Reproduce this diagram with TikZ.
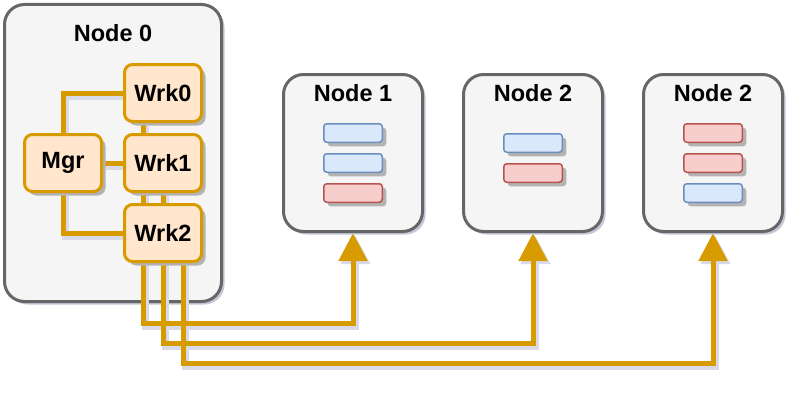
\documentclass[tikz,border=0pt]{standalone}
\usepackage{fontspec}
\setmainfont{Liberation Sans}
\usetikzlibrary{arrows.meta,positioning,shadows}

\definecolor{boxfill}{HTML}{F5F5F5}
\definecolor{boxline}{HTML}{666666}
\definecolor{wrkfill}{HTML}{FFE6CC}
\definecolor{wrkline}{HTML}{D79B00}
\definecolor{fillblu}{HTML}{DAE8FC}
\definecolor{lineblu}{HTML}{6C8EBF}
\definecolor{fillred}{HTML}{F8CECC}
\definecolor{linered}{HTML}{B85450}
\definecolor{shadeblue}{HTML}{C4C7D8}
\definecolor{shadelink}{HTML}{D8DBE7}
\definecolor{shadegray}{HTML}{B3B3B3}

\pgfdeclarelayer{back}
\pgfdeclarelayer{mid}
\pgfsetlayers{back,mid,main}

\begin{document}
\begin{tikzpicture}[x=1pt,y=-1pt,
	every node/.style={font=\fontsize{23.5}{27}\selectfont\bfseries},
	host/.style={draw=boxline,fill=boxfill,line width=3pt,rounded corners=20pt,inner sep=0pt,
		drop shadow={shadow xshift=3pt,shadow yshift=-3pt,fill=shadeblue,opacity=1}},
	wrk/.style={draw=wrkline,fill=wrkfill,line width=3pt,rounded corners=8pt,inner sep=0pt,
		minimum width=77pt,minimum height=57pt,
		drop shadow={shadow xshift=4pt,shadow yshift=-4pt,fill=shadegray,opacity=1}},
	bar/.style={draw=line#1,fill=fill#1,line width=1.5pt,rounded corners=3pt,inner sep=0pt,
		minimum width=58.5pt,minimum height=18.5pt,
		drop shadow={shadow xshift=4pt,shadow yshift=-4pt,fill=shadegray,opacity=1}},
	link/.style={draw=wrkline,line width=5pt},
	linkshade/.style={draw=shadelink,line width=7pt,transform canvas={shift={(2.5pt,-3pt)}}},
	tip/.style={-{Triangle[width=28pt,length=28pt]}}
	]
	\useasboundingbox (0,0) rectangle (810,404);

	% hosts
	\begin{pgfonlayer}{back}
		\node[host,minimum width=217pt,minimum height=297pt] (n0) at (113,153) {};
	\end{pgfonlayer}
	\node (t0) at ([yshift=-30pt]n0.north) {Node 0};
	\node[host,minimum width=139pt,minimum height=157pt] (n1) at (353,153) {};
	\node[host,minimum width=139pt,minimum height=157pt] (n2) at (533,153) {};
	\node[host,minimum width=139pt,minimum height=157pt] (n3) at (713,153) {};
	\node (t1) at ([yshift=-20pt]n1.north) {Node 1};
	\node (t2) at ([yshift=-20pt]n2.north) {Node 2};
	\node (t3) at ([yshift=-20pt]n3.north) {Node 2};

	% manager and workers
	\node[wrk] (w0) at (163,93) {Wrk0};
	\node[wrk,below=10pt of w0] (w1) {Wrk1};
	\node[wrk,below=10pt of w1] (w2) {Wrk2};
	\node[wrk,left=20pt of w1] (mgr) {Mgr};

	% blocks
	\foreach \y/\c in {133/blu,163/blu,193/red}
		\node[bar=\c] (b1-\y) at (353,\y) {};
	\foreach \y/\c in {143/blu,173/red}
		\node[bar=\c] (b2-\y) at (533,\y) {};
	\foreach \y/\c in {133/red,163/red,193/blu}
		\node[bar=\c] (b3-\y) at (713,\y) {};

	% links
	\begin{pgfonlayer}{mid}
		\foreach \sty in {linkshade,link}{
			\draw[\sty] (mgr.north) |- (w0.west);
			\draw[\sty] (mgr) -- (w1);
			\draw[\sty] (mgr.south) |- (w2.west);
			\foreach \w/\n/\dx/\dy in {w0/n1/-20/90,w1/n2/0/110,w2/n3/20/130}
				\draw[\sty,tip] ([xshift=\dx pt]\w.south) |- ([yshift=-\dy pt]\n.south) -- (\n.south);
		}
	\end{pgfonlayer}
\end{tikzpicture}
\end{document}
